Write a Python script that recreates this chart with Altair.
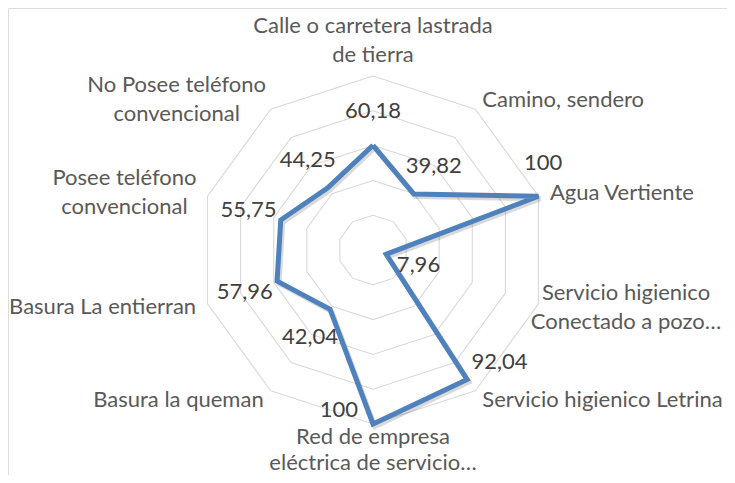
import math
import altair as alt
import pandas as pd

# ---------------- data ----------------
categories = [
    "Calle o carretera lastrada\nde tierra",
    "Camino, sendero",
    "Agua Vertiente",
    "Servicio higienico\nConectado a pozo…",
    "Servicio higienico Letrina",
    "Red de empresa\neléctrica de servicio…",
    "Basura la queman",
    "Basura La entierran",
    "Posee teléfono\nconvencional",
    "No Posee teléfono\nconvencional",
]
values = [60.18, 39.82, 100, 7.96, 92.04, 100, 42.04, 57.96, 55.75, 44.25]
value_text = ["60,18", "39,82", "100", "7,96", "92,04", "100", "42,04", "57,96", "55,75", "44,25"]
grid_levels = [20, 40, 60, 80, 100]

# ---------------- layout ----------------
W, H = 719, 467
CX, CY = 365, 242          # centre of the radar, in plot pixels
R_PX = 174.0               # pixel radius of the 100 ring
K = R_PX / 100.0           # pixels per unit
xdom = [-CX / K, (W - CX) / K]
ydom = [-(H - CY) / K, CY / K]
FONT = "Lato"
FS = 22
LH = 29
BLUE = "#4f81bd"

n = len(categories)
ang = [2 * math.pi * i / n for i in range(n)]


def pol(r, a):
    return r * math.sin(a), r * math.cos(a)


# grid rings
grid_rows = []
for lv in grid_levels:
    for j in range(n + 1):
        x, y = pol(lv, ang[j % n])
        grid_rows.append({"level": lv, "o": j, "x": x, "y": y})
grid_df = pd.DataFrame(grid_rows)

# series polygon
ser_rows = []
for j in range(n + 1):
    x, y = pol(values[j % n], ang[j % n])
    ser_rows.append({"o": j, "x": x, "y": y})
ser_df = pd.DataFrame(ser_rows)
shadow_df = ser_df.assign(x=ser_df.x + 2.0 / K, y=ser_df.y - 2.5 / K)

# category labels (anchored just outside the outer ring)
cat_rows = []
for i, lab in enumerate(categories):
    s, c = math.sin(ang[i]), math.cos(ang[i])
    lines = lab.split("\n")
    nl = len(lines)
    if abs(s) < 0.2:
        if c > 0:
            x, y = 0.0, 100 + (9 + (nl - 1) * LH) / K
            grp = "top"
        else:
            x, y = 0.0, -(100 + 3 / K)
            grp = "bottom"
    else:
        gap = 12
        x, y = (100 + gap / K) * s, (100 + gap / K) * c
        y += (nl - 1) * LH / 2 / K
        if nl > 1:
            est = max(len(l) for l in lines) * 0.465 * FS
            if s > 0:
                x += est / 2 / K
                real_half = max(len(l) for l in lines) * 0.5 * FS / 2
                x = min(x, (W - CX - 2 - real_half) / K)
            else:
                x -= est / 2 / K
            grp = "midc"
        else:
            grp = "left" if s > 0 else "right"
    cat_rows.append({"label": lab, "x": x, "y": y, "grp": grp})
cat_df = pd.DataFrame(cat_rows)

# value labels: radial outward, a few turned aside to stay clear of the line
label_dir_override = {2: 8, 4: 61, 5: 293}
val_rows = []
for i, v in enumerate(values):
    px, py = pol(v, ang[i])
    d = math.radians(label_dir_override.get(i, math.degrees(ang[i])))
    dist = 37 if i in (4, 5) else 34
    val_rows.append({"t": value_text[i], "x": px + dist / K * math.sin(d), "y": py + dist / K * math.cos(d)})
val_df = pd.DataFrame(val_rows)

xs = alt.Scale(domain=xdom, nice=False, zero=False)
ys = alt.Scale(domain=ydom, nice=False, zero=False)
X = alt.X("x:Q", scale=xs, axis=None)
Y = alt.Y("y:Q", scale=ys, axis=None)

grid = alt.Chart(grid_df).mark_line(color="#d9d9d9", strokeWidth=1.1).encode(
    x=X, y=Y, order="o:Q", detail="level:N"
)
shadow = alt.Chart(shadow_df).mark_line(
    color="#000000", opacity=0.15, strokeWidth=5, strokeJoin="miter", strokeMiterLimit=4
).encode(x=X, y=Y, order="o:Q")
series = alt.Chart(ser_df).mark_line(
    color=BLUE, strokeWidth=5, strokeJoin="miter", strokeMiterLimit=4
).encode(x=X, y=Y, order="o:Q")


def cat_layer(grp, align, baseline, lh=LH):
    return alt.Chart(cat_df).transform_filter(alt.datum.grp == grp).mark_text(
        font=FONT, fontSize=FS, color="#595959", align=align, baseline=baseline,
        lineBreak="\n", lineHeight=lh
    ).encode(x=X, y=Y, text="label:N")


cats = [
    cat_layer("top", "center", "bottom"),
    cat_layer("bottom", "center", "top", 26),
    cat_layer("left", "left", "middle"),
    cat_layer("right", "right", "middle"),
    cat_layer("midc", "center", "middle"),
]
vals = alt.Chart(val_df).mark_text(
    font=FONT, fontSize=FS, color="#404040", align="center", baseline="middle"
).encode(x=X, y=Y, text="t:N")

chart = alt.layer(grid, shadow, series, *cats, vals).properties(
    width=W, height=H, padding=0, autosize=alt.AutoSizeParams(type="none")
).configure_view(strokeWidth=0, stroke="transparent").configure(background="white")

chart.save("out.html", embed_options={"renderer": "svg", "actions": False})
